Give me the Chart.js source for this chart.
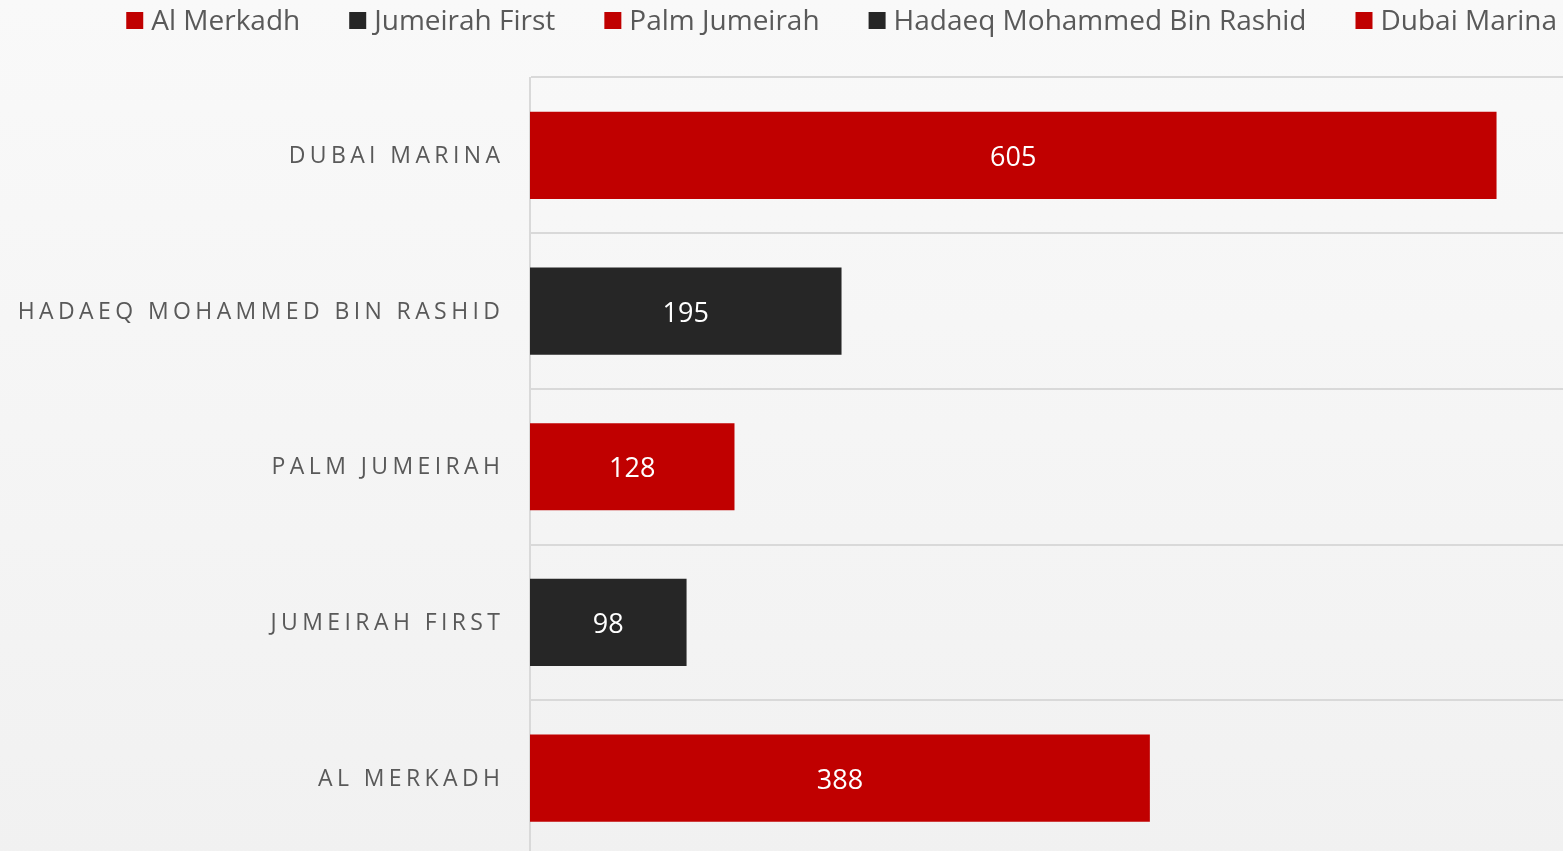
<!DOCTYPE html>
<html lang="en">
<head>
  <meta charset="UTF-8">
  <title>Listings by Area</title>
  <script src="https://cdn.jsdelivr.net/npm/chart.js"></script>
  <style>
    html, body {
      margin: 0;
      padding: 0;
      overflow: hidden;
      background: linear-gradient(to bottom, #f9f9f9, #f1f1f1);
    }
    .wrap {
      position: relative;
      width: 1563px;
      height: 858px;
    }
  </style>
</head>
<body>

<div class="wrap">
  <canvas id="areaChart"></canvas>
</div>

<script>
  // first category is drawn at the bottom, like the Excel original
  const categories = ['Al Merkadh', 'Jumeirah First', 'Palm Jumeirah', 'Hadaeq Mohammed Bin Rashid', 'Dubai Marina'];
  const values = [388, 98, 128, 195, 605];
  const barColors = ['#C00000', '#262626', '#C00000', '#262626', '#C00000'];
  const xMax = 646.6;

  const FONT = '"Open Sans", sans-serif';
  const TEXT = '#595959';

  // legend across the top, right aligned like the original
  const topLegend = {
    id: 'topLegend',
    afterDraw(chart) {
      const ctx = chart.ctx;
      ctx.save();
      ctx.font = '28px ' + FONT;
      ctx.textBaseline = 'middle';
      ctx.textAlign = 'left';
      const widths = categories.map(c => ctx.measureText(c).width);
      const total = widths.reduce((a, w) => a + 25 + w, 0) + 49 * (categories.length - 1);
      let x = 1557 - total;
      categories.forEach((c, i) => {
        ctx.fillStyle = barColors[i];
        ctx.fillRect(x, 12, 17, 17);
        ctx.fillStyle = TEXT;
        ctx.fillText(c, x + 25, 22);
        x += 25 + widths[i] + 49;
      });
      ctx.restore();
    }
  };

  // spaced capital labels on the category axis + value labels inside bars
  const labelsPlugin = {
    id: 'labelsPlugin',
    afterDatasetsDraw(chart) {
      const ctx = chart.ctx;
      const yScale = chart.scales.y;
      ctx.save();
      ctx.font = '23px ' + FONT;
      ctx.fillStyle = TEXT;
      ctx.textAlign = 'right';
      ctx.textBaseline = 'middle';
      ctx.letterSpacing = '4.4px';
      categories.forEach((c, i) => {
        ctx.fillText(c.toUpperCase(), chart.chartArea.left - 30 + 4.4, yScale.getPixelForValue(i) + 1);
      });

      ctx.letterSpacing = '0px';
      ctx.font = '27px ' + FONT;
      ctx.fillStyle = '#ffffff';
      ctx.textAlign = 'center';
      chart.getDatasetMeta(0).data.forEach((bar, i) => {
        const mid = (bar.x + bar.base) / 2;
        ctx.fillText(values[i], mid, bar.y + 3);
      });
      ctx.restore();
    }
  };

  new Chart(document.getElementById('areaChart'), {
    type: 'bar',
    data: {
      labels: categories,
      datasets: [{
        data: values,
        backgroundColor: barColors,
        barPercentage: 0.56,
        categoryPercentage: 1
      }]
    },
    options: {
      indexAxis: 'y',
      responsive: true,
      maintainAspectRatio: false,
      animation: false,
      layout: { padding: { top: 77.5, bottom: 2, left: 0, right: 0 } },
      scales: {
        x: {
          min: 0,
          max: xMax,
          display: false
        },
        y: {
          reverse: true,
          ticks: { display: false },
          grid: { color: '#d9d9d9', lineWidth: 2, drawTicks: false },
          border: { color: '#d9d9d9', width: 2 },
          afterFit(scale) { scale.width = 530; }
        }
      },
      plugins: {
        legend: { display: false },
        tooltip: { enabled: false }
      }
    },
    plugins: [topLegend, labelsPlugin]
  });
</script>

</body>
</html>
